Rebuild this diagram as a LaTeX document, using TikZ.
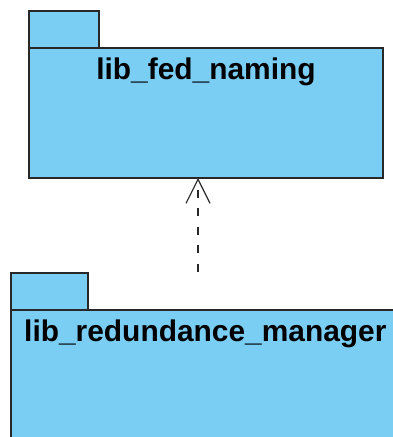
\documentclass[tikz,border=0pt]{standalone}
\usepackage{fontspec}
\setmainfont{Liberation Sans}
\usetikzlibrary{arrows.meta}
\definecolor{pkgfill}{RGB}{122,206,243}
\definecolor{pkgline}{RGB}{40,40,40}
\tikzset{
  pkgbox/.style={draw=pkgline, fill=pkgfill, line width=1.4pt, rectangle,
    inner sep=0pt, outer sep=0pt, anchor=north west},
  pkgtitle/.style={font=\fontsize{29.9}{32}\selectfont\bfseries, text=black, inner sep=0pt},
  depline/.style={draw=pkgline, line width=1.2pt, dash pattern=on 8pt off 10.5pt,
    -{Straight Barb[length=24pt,width=24pt,line width=1.2pt]}}
}
\begin{document}
\begin{tikzpicture}[x=1pt,y=1pt]
  \useasboundingbox (0,0) rectangle (392,437);
  % package lib_fed_naming: tab and body
  \node[pkgbox, minimum width=70pt, minimum height=37pt] (fedtab) at (29,426) {};
  \node[pkgbox, minimum width=354pt, minimum height=130pt] (fedbody) at (29,389) {};
  \node[pkgtitle, anchor=base] (fedname) at (206,357) {lib\_fed\_naming};
  % package lib_redundance_manager: tab and body (body runs past the frame)
  \node[pkgbox, minimum width=77pt, minimum height=37pt] (redtab) at (11,164) {};
  \node[pkgbox, minimum width=400pt, minimum height=140pt] (redbody) at (11,127) {};
  \node[pkgtitle, anchor=base west] (redname) at (24,95.5) {lib\_redundance\_manager};
  % dependency
  \coordinate (src) at (198,165);
  \draw[depline] (src) -- (src |- fedbody.south);
\end{tikzpicture}
\end{document}
